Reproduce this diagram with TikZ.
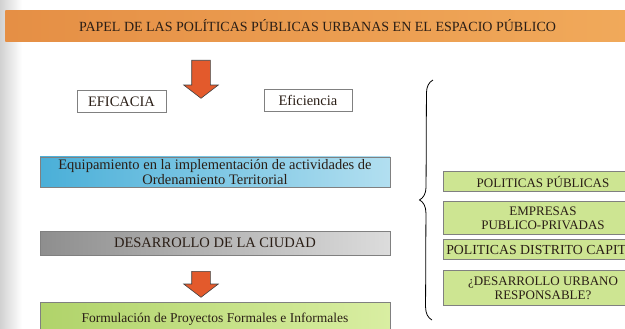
\documentclass[tikz,border=0pt]{standalone}
\usepackage{fontspec}
\setmainfont{Liberation Serif}
\usepackage{tikz}
\usetikzlibrary{positioning, shapes.arrows, decorations.pathreplacing}

\definecolor{bannerL}{HTML}{E58F45}
\definecolor{bannerR}{HTML}{F1AA5B}
\definecolor{blueL}{HTML}{4AAFD8}
\definecolor{blueR}{HTML}{B2DFF0}
\definecolor{grayL}{HTML}{8E8E8E}
\definecolor{grayR}{HTML}{DCDCDC}
\definecolor{greenL}{HTML}{B0D36A}
\definecolor{greenR}{HTML}{D9EEA2}
\definecolor{boxgreen}{HTML}{CDE592}
\definecolor{arrowred}{HTML}{E35A2C}
\definecolor{inkdark}{HTML}{2A1E16}

\begin{document}
\begin{tikzpicture}[x=1pt, y=-1pt, text=inkdark,
  box/.style={draw=black!50, line width=0.5pt, inner sep=0pt, align=center},
  whitebox/.style={box, fill=white, minimum width=89pt, minimum height=22pt, font=\fontsize{14.5}{16}\selectfont},
  widebox/.style={box, minimum width=350pt, font=\fontsize{14.5}{15.5}\selectfont},
  rightbox/.style={box, fill=boxgreen, minimum width=200pt, font=\fontsize{13}{14}\selectfont},
  downarrow/.style={single arrow, draw=black!75, line width=0.6pt, fill=arrowred, shape border rotate=270,
    inner sep=9pt, single arrow head extend=8pt, single arrow tip angle=105, anchor=tail}
]
\useasboundingbox (0,0) rectangle (625,329);
\clip (0,0) rectangle (625,329);

% Paper edge
\fill[left color=black!18, right color=white] (0,0) rectangle (22,329);

% Title banner
\node[box, draw=none, left color=bannerL, right color=bannerR, minimum width=640pt, minimum height=31pt, anchor=north west] (banner) at (5,10) {};
\node[font=\fontsize{14}{16}\selectfont] (title) at (317.5,26) {PAPEL DE LAS POLÍTICAS PÚBLICAS URBANAS EN EL ESPACIO PÚBLICO};

% First arrow and the two criteria
\node[downarrow, minimum height=38pt] (arrowA) at (201,60) {};
\node[whitebox] (eficacia) at (121.5,101.5) {EFICACIA};
\node[whitebox, minimum width=88pt] (eficiencia) at (308,100.5) {Eficiencia};

% Left column
\node[widebox, left color=blueL, right color=blueR, minimum height=30pt] (equip) at (215,172)
  {Equipamiento en la implementación de actividades de\\Ordenamiento Territorial};
\node[widebox, left color=grayL, right color=grayR, minimum height=24pt] (ciudad) at (215,243) {DESARROLLO DE LA CIUDAD};
\node[downarrow, minimum height=26pt] (arrowB) at (201,271) {};
\node[widebox, left color=greenL, right color=greenR, minimum height=34pt, font=\fontsize{13.5}{15}\selectfont] (proyectos) at (215,319)
  {Formulación de Proyectos Formales e Informales};

% Brace
\coordinate (braceTop) at (433,80);
\coordinate (braceBot) at (432,320);
\draw[line width=0.8pt, decorate, decoration={brace, amplitude=13pt}] (braceBot) -- (braceTop);

% Right column
\node[rightbox, minimum height=20pt] (politicas) at (543,181.5) {POLITICAS PÚBLICAS};
\node[rightbox, minimum height=33pt] (empresas) at (543,218) {EMPRESAS\\PUBLICO-PRIVADAS};
\node[rightbox, minimum width=0pt, minimum height=20pt, inner xsep=3pt, anchor=west, font=\fontsize{13.8}{14}\selectfont] (distrito) at (443,249.5) {POLITICAS DISTRITO CAPITAL};
\node[rightbox, minimum height=35pt] (urbano) at (543,288) {¿DESARROLLO URBANO\\RESPONSABLE?};

\end{tikzpicture}
\end{document}
